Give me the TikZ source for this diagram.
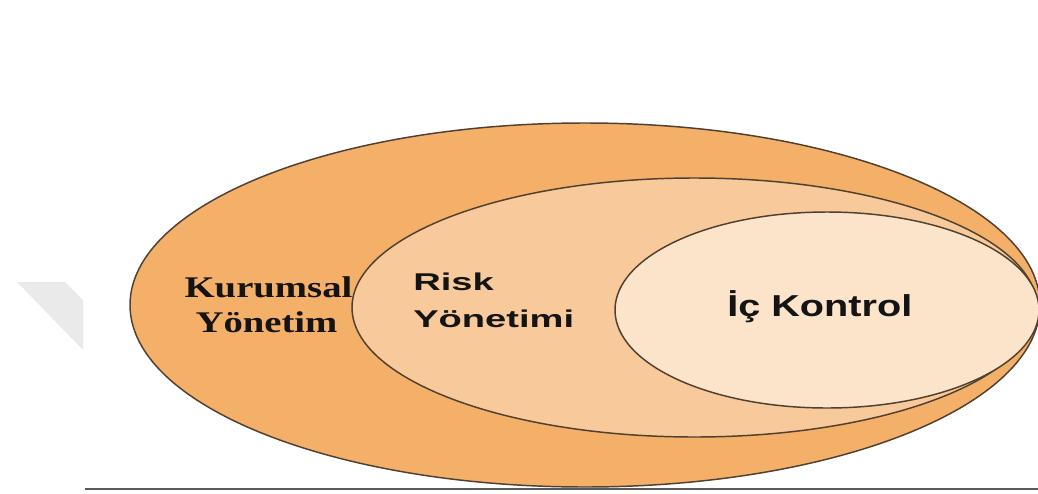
\documentclass[tikz,border=0pt]{standalone}
\usepackage{fontspec}
\setmainfont{Liberation Serif}
% horizontally widened faces for the labels
\newfontfamily\serifwide[FakeStretch=1.29]{Liberation Serif}
\newfontfamily\sanswide[FakeStretch=1.57]{Liberation Sans}
\newfontfamily\sansbig[FakeStretch=1.31]{Liberation Sans}
\definecolor{outerfill}{RGB}{244,175,104}
\definecolor{midfill}{RGB}{248,201,154}
\definecolor{innerfill}{RGB}{252,228,202}
\definecolor{rimcol}{RGB}{80,64,48}
\definecolor{markgray}{RGB}{234,234,234}
\tikzset{
  rim/.style={draw=rimcol, line width=1.1pt},
  serlabel/.style={inner sep=0pt, anchor=base, font=\serifwide\bfseries\fontsize{22.5}{27}\selectfont, text=black!92},
  sanslabel/.style={inner sep=0pt, anchor=base west, font=\sanswide\bfseries\fontsize{18.2}{22}\selectfont, text=black!92},
  biglabel/.style={inner sep=0pt, anchor=base west, font=\sansbig\bfseries\fontsize{22.7}{27}\selectfont, text=black!92},
}
\begin{document}
\begin{tikzpicture}[x=0.75pt,y=-0.75pt]
  \useasboundingbox (0,0) rectangle (1038,493);
  \clip (0,0) rectangle (1038,493);
  % faint grey mark on the left
  \fill[markgray] (17,282) -- (65,282) -- (83,300) -- (83,350) -- cycle;
  % nested ellipses
  \filldraw[rim, fill=outerfill] (585,305) ellipse [x radius=455, y radius=182];
  \filldraw[rim, fill=midfill] (694.5,307.5) ellipse [x radius=342.5, y radius=129.5];
  \filldraw[rim, fill=innerfill] (827,310) ellipse [x radius=212, y radius=98];
  % base line
  \draw[line width=1.3pt, draw=black!65] (85,489) -- (1038,489);
  % labels
  \node[serlabel] (kur1) at (268.5,297) {Kurumsal};
  \node[serlabel] (kur2) at (266.5,332) {Yönetim};
  \node[sanslabel] (risk1) at (413,290) {Risk};
  \node[sanslabel] (risk2) at (413,327) {Yönetimi};
  \node[biglabel] (ic) at (727,316) {İç Kontrol};
\end{tikzpicture}
\end{document}
